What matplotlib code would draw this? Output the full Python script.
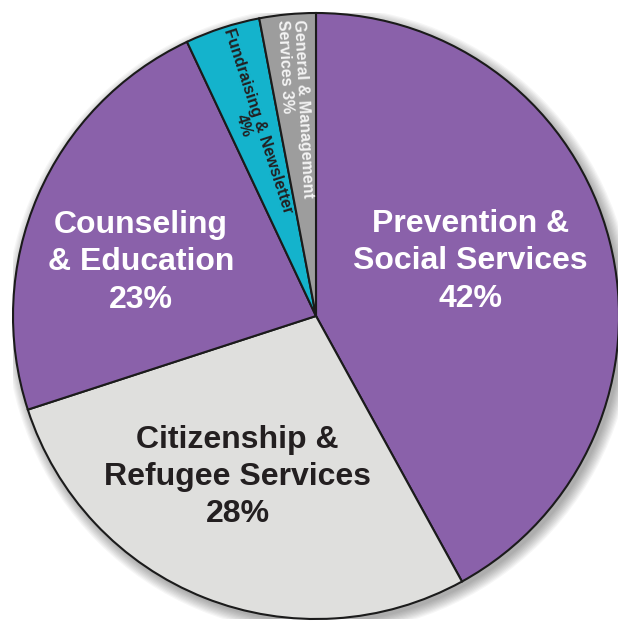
import matplotlib
matplotlib.use("Agg")
import matplotlib.pyplot as plt
import numpy as np
from matplotlib.patches import Circle

categories = ["Prevention &\nSocial Services", "Citizenship &\nRefugee Services",
              "Counseling\n& Education", "Fundraising & Newsletter", "General & Management\nServices"]
values = [42, 28, 23, 4, 3]
slice_colors = ["#8A61AA", "#DFDFDD", "#8A61AA", "#14B3CC", "#9D9D9D"]

fig = plt.figure(figsize=(6.18, 6.22), dpi=100)
ax = fig.add_axes([13 / 618, 3 / 622, 606 / 618, 606 / 622])
ax.set_xlim(-1.0, 1.0)
ax.set_ylim(-1.0, 1.0)
ax.axis("off")

# soft drop shadow
for i in range(10):
    ax.add_patch(Circle((0.012, -0.014), 1.0 + 0.004 * i, color="black",
                        alpha=0.035, lw=0, zorder=0))

wedges, _ = ax.pie(values, colors=slice_colors, startangle=90, counterclock=False,
                   radius=1.0, wedgeprops=dict(edgecolor="#1b1b1b", linewidth=1.5))
for w in wedges:
    w.set_zorder(2)
ax.set_xlim(-1.0, 1.0)
ax.set_ylim(-1.0, 1.0)
ax.set_aspect("auto")

font = "Liberation Sans"
# big labels: (index, angle, radius, color)
big = [
    (0, 19.5, 0.54, "white"),
    (1, -116.0, 0.59, "#231F20"),
    (2, 163.0, 0.605, "white"),
]
for idx, ang, r, col in big:
    t = np.deg2rad(ang)
    ax.text(r * np.cos(t), r * np.sin(t), f"{categories[idx]}\n{values[idx]}%",
            ha="center", va="center", fontsize=23, fontweight="bold", color=col,
            family=font, linespacing=1.31, zorder=5)

# small rotated labels
t = np.deg2rad(108.6)
ax.text(0.672 * np.cos(t), 0.672 * np.sin(t), f"{categories[3]}\n{values[3]}%",
        ha="center", va="center", rotation=-72, fontsize=11.5, fontweight="bold",
        color="#231F20", family=font, linespacing=1.05, zorder=5)
t = np.deg2rad(95.8)
ax.text(0.687 * np.cos(t), 0.687 * np.sin(t), f"{categories[4]} {values[4]}%",
        ha="center", va="center", rotation=-87, fontsize=11.5, fontweight="bold",
        color="#F4F4F4", family=font, linespacing=1.05, multialignment="left", zorder=5)

fig.savefig("out.png", dpi=100, facecolor="white")
